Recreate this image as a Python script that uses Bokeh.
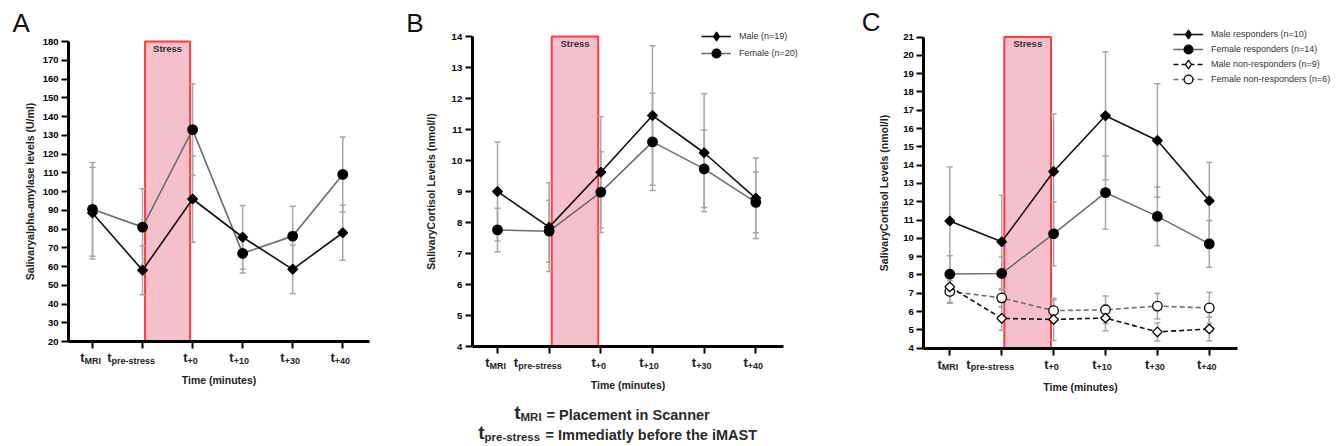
import numpy as np
from bokeh.plotting import figure
from bokeh.models import (ColumnDataSource, Whisker, TeeHead, Label, Legend, LegendItem,
                          FixedTicker, Range1d)
from bokeh.layouts import row
from bokeh.embed import file_html
from bokeh.resources import INLINE

# ---------------- data ----------------
time_subscripts = ["MRI", "pre-stress", "+0", "+10", "+30", "+40"]
stress_window = (1.05, 1.95)          # stress period between t_pre-stress and t_+0

# Panel A: salivary alpha-amylase (U/ml)
amylase_male = [88.5, 58.0, 96.0, 75.6, 58.5, 78.0]
amylase_male_sem = [24.5, 13.0, 23.0, 17.0, 13.0, 14.7]
amylase_female = [90.5, 81.0, 133.0, 67.0, 76.2, 109.1]
amylase_female_sem = [25.0, 20.5, 24.5, 10.5, 16.0, 20.0]
amylase_ticks = list(range(20, 181, 10))

# Panel B: salivary cortisol (nmol/l) by sex
cortisol_male = [9.0, 7.85, 9.62, 11.45, 10.25, 8.78]
cortisol_male_sem = [1.6, 1.43, 1.8, 2.25, 1.9, 1.3]
cortisol_female = [7.76, 7.72, 8.98, 10.6, 9.73, 8.65]
cortisol_female_sem = [0.7, 1.0, 1.3, 1.57, 1.25, 0.98]
cortisol_b_ticks = list(range(4, 15))
legend_b = ["Male (n=19)", "Female (n=20)"]

# Panel C: responders / non-responders
male_resp = [10.95, 9.81, 13.65, 16.7, 15.35, 12.05]
male_resp_sem = [2.95, 2.55, 3.15, 3.5, 3.1, 2.1]
female_resp = [8.05, 8.08, 10.25, 12.5, 11.2, 9.7]
female_resp_sem = [1.0, 0.9, 1.75, 2.0, 1.6, 1.28]
male_nonresp = [7.35, 5.63, 5.57, 5.65, 4.89, 5.05]
male_nonresp_sem = [0.9, 0.65, 1.15, 0.7, 0.5, 0.65]
female_nonresp = [7.1, 6.75, 6.05, 6.1, 6.3, 6.2]
female_nonresp_sem = [0.6, 0.5, 0.6, 0.75, 0.7, 0.85]
cortisol_c_ticks = list(range(4, 22))
legend_c = ["Male responders (n=10)", "Female responders (n=14)",
            "Male non-responders (n=9)", "Female non-responders (n=6)"]

# ---------------- styles / layout ----------------
FONT = "Liberation Sans"
H = 444
BLACK = "#111111"
GREY = "#6e6e6e"
ERR = "#a6a6a6"
PINK = "#f6bfcc"
RED = "#ff3a3a"
TICK_SUB_DX = [-8, -31, -5, -9, -8, -8]


def make_panel(width, tick0_px, spacing_px, x_bounds, y_bounds, ymin_px, ymax_px,
               y_ticks, y_label, y_label_standoff):
    # ranges chosen so that the axes land on the wanted pixels of a frame filling the figure
    x_start = -tick0_px / spacing_px
    x_end = (width - tick0_px) / spacing_px
    ppu = (ymin_px - ymax_px) / (y_bounds[1] - y_bounds[0])
    y_end = y_bounds[1] + ymax_px / ppu
    y_start = y_bounds[0] - (H - ymin_px) / ppu

    p = figure(width=width, height=H, x_range=Range1d(x_start, x_end),
               y_range=Range1d(y_start, y_end),
               output_backend="svg", toolbar_location=None,
               min_border_left=0, min_border_right=0, min_border_top=0, min_border_bottom=0)
    p.outline_line_color = None
    p.xgrid.visible = False
    p.ygrid.visible = False
    p.background_fill_color = "white"
    p.border_fill_color = "white"

    p.quad(left=[stress_window[0]], right=[stress_window[1]],
           bottom=[y_bounds[0]], top=[y_bounds[1]],
           fill_color=PINK, line_color=RED, line_width=2, level="underlay")
    p.add_layout(Label(x=sum(stress_window) / 2, y=y_bounds[1], y_offset=-1, text="Stress",
                       text_align="center", text_baseline="top", text_font=FONT,
                       text_font_style="bold", text_font_size="9.5px", text_color="#333333"))

    for ax in (p.xaxis[0], p.yaxis[0]):
        ax.axis_line_width = 3
        ax.axis_line_color = "black"
        ax.major_tick_line_width = 2
        ax.major_tick_line_color = "black"
        ax.major_tick_out = 7
        ax.major_tick_in = 0
        ax.minor_tick_line_color = None

    p.yaxis.fixed_location = x_bounds[0]
    p.yaxis.bounds = y_bounds
    p.yaxis.ticker = FixedTicker(ticks=y_ticks)
    p.yaxis.major_label_text_font = FONT
    p.yaxis.major_label_text_font_style = "bold"
    p.yaxis.major_label_text_font_size = "9.5px"
    p.yaxis.major_label_text_color = "black"
    p.yaxis.major_label_standoff = 3
    p.yaxis.axis_label = y_label
    p.yaxis.axis_label_text_font = FONT
    p.yaxis.axis_label_text_font_style = "bold"
    p.yaxis.axis_label_text_font_size = "10.5px"
    p.yaxis.axis_label_text_color = "#222222"
    p.yaxis.axis_label_standoff = y_label_standoff

    p.xaxis.fixed_location = y_bounds[0]
    p.xaxis.bounds = x_bounds
    p.xaxis.ticker = FixedTicker(ticks=list(range(len(time_subscripts))))
    p.xaxis.major_label_overrides = {i: "" for i in range(len(time_subscripts))}
    p.xaxis.major_label_text_font_size = "0px"
    p.xaxis.major_label_standoff = 0
    p.xaxis.axis_label = "Time (minutes)"
    p.xaxis.axis_label_text_font = FONT
    p.xaxis.axis_label_text_font_style = "bold"
    p.xaxis.axis_label_text_font_size = "10.5px"
    p.xaxis.axis_label_text_color = "#222222"
    p.xaxis.axis_label_standoff = 25

    for i, (sub, dx) in enumerate(zip(time_subscripts, TICK_SUB_DX)):
        p.add_layout(Label(x=i, y=y_bounds[0], x_offset=dx, y_offset=-16, text="t",
                           text_align="right", text_baseline="alphabetic", text_font=FONT,
                           text_font_style="bold", text_font_size="13px", text_color="#222222"))
        p.add_layout(Label(x=i, y=y_bounds[0], x_offset=dx, y_offset=-19, text=sub,
                           text_align="left", text_baseline="alphabetic", text_font=FONT,
                           text_font_style="bold", text_font_size="9px", text_color="#222222"))
    return p


def add_series(p, y, sem, color, marker, fill, dash="solid"):
    src = ColumnDataSource(dict(x=list(range(len(y))), y=y,
                                lo=[a - b for a, b in zip(y, sem)],
                                hi=[a + b for a, b in zip(y, sem)]))
    p.add_layout(Whisker(source=src, base="x", upper="hi", lower="lo", dimension="height",
                         line_color=ERR, line_width=1.5, level="underlay",
                         upper_head=TeeHead(size=6, line_color=ERR, line_width=1.5),
                         lower_head=TeeHead(size=6, line_color=ERR, line_width=1.5)))
    ln = p.line("x", "y", source=src, line_color=color, line_width=1.6, line_dash=dash)
    if marker == "diamond":
        p.scatter("x", "y", source=src, marker="square", angle=np.pi / 4, size=6.8,
                  fill_color=fill, line_color="black", line_width=1.3)
        # hidden twin so that the legend shows a diamond
        lg = p.scatter("x", "y", source=src, marker="diamond", size=10,
                       fill_color=fill, line_color="black", line_width=1.3, visible=False)
    else:
        lg = p.scatter("x", "y", source=src, marker="circle", size=9.5,
                       fill_color=fill, line_color="black", line_width=1.3)
    return ln, lg


def panel_letter(p, text, x0, y1, dx, dy):
    p.add_layout(Label(x=x0, y=y1, x_offset=dx, y_offset=dy, text=text, text_align="left",
                       text_baseline="alphabetic", text_font=FONT, text_font_size="26px",
                       text_color="#111111"))


def add_legend_rows(p, labels, renderer_pairs, x_px, row_centers_px):
    # one single-row legend per entry, so the row pitch can be tighter than the glyph box
    for lab, rens, yc in zip(labels, renderer_pairs, row_centers_px):
        p.add_layout(Legend(items=[LegendItem(label=lab, renderers=list(rens))],
                            location=(x_px, H - yc - 11), orientation="vertical",
                            glyph_width=30, glyph_height=22, label_height=12, spacing=0,
                            label_standoff=8, padding=0, margin=0,
                            label_text_font=FONT, label_text_font_size="9px",
                            label_text_color="#333333",
                            border_line_color=None, background_fill_alpha=0))


# ---------------- Panel A ----------------
xa = (-0.48, 5.54)
pa = make_panel(400, 92, 50.05, xa, (20, 180), 341, 41, amylase_ticks,
                "Salivaryalpha-amylase levels (U/ml)", 4)
add_series(pa, amylase_female, amylase_female_sem, GREY, "circle", "black")
add_series(pa, amylase_male, amylase_male_sem, BLACK, "diamond", "black")
panel_letter(pa, "A", xa[0], 180, -56, 19)

# ---------------- Panel B ----------------
xb = (-0.49, 5.53)
pb = make_panel(455, 97, 51.66, xb, (4, 14), 346, 36, cortisol_b_ticks,
                "SalivaryCortisol Levels (nmol/l)", 12)
f_pair = add_series(pb, cortisol_female, cortisol_female_sem, GREY, "circle", "black")
m_pair = add_series(pb, cortisol_male, cortisol_male_sem, BLACK, "diamond", "black")
add_legend_rows(pb, legend_b, [m_pair, f_pair], 301, [36, 53])
panel_letter(pb, "B", xb[0], 14, -66, 14)

# caption below panel B
cap_style = dict(text_font=FONT, text_font_style="bold", text_color="#2a2a2a",
                 text_baseline="alphabetic")
pb.add_layout(Label(x=0, y=4, x_offset=23, y_offset=-66, text="t", text_align="right",
                    text_font_size="19px", **cap_style))
pb.add_layout(Label(x=0, y=4, x_offset=23, y_offset=-70, text="MRI", text_align="left",
                    text_font_size="11.5px", **cap_style))
pb.add_layout(Label(x=0, y=4, x_offset=49, y_offset=-68, text="= Placement in Scanner",
                    text_align="left", text_font_size="14.5px", **cap_style))
pb.add_layout(Label(x=0, y=4, x_offset=-13, y_offset=-86, text="t", text_align="right",
                    text_font_size="19px", **cap_style))
pb.add_layout(Label(x=0, y=4, x_offset=-13, y_offset=-90, text="pre-stress", text_align="left",
                    text_font_size="11.5px", **cap_style))
pb.add_layout(Label(x=0, y=4, x_offset=48, y_offset=-88, text="= Immediatly before the iMAST",
                    text_align="left", text_font_size="14.5px", **cap_style))

# ---------------- Panel C ----------------
xc = (-0.5, 5.54)
pc = make_panel(479, 94.3, 51.9, xc, (4, 21), 347.7, 36.5, cortisol_c_ticks,
                "SalivaryCortisol Levels (nmol/l)", 10)
fn_pair = add_series(pc, female_nonresp, female_nonresp_sem, GREY, "circle", "white", "5 3")
mn_pair = add_series(pc, male_nonresp, male_nonresp_sem, BLACK, "diamond", "white", "5 3")
fr_pair = add_series(pc, female_resp, female_resp_sem, GREY, "circle", "black")
mr_pair = add_series(pc, male_resp, male_resp_sem, BLACK, "diamond", "black")
add_legend_rows(pc, legend_c, [mr_pair, fr_pair, mn_pair, fn_pair], 318, [34, 49, 63.5, 78.5])
panel_letter(pc, "C", xc[0], 21, -62, 15)

layout = row(pa, pb, pc)
open("out.html", "w").write(file_html(layout, INLINE))
